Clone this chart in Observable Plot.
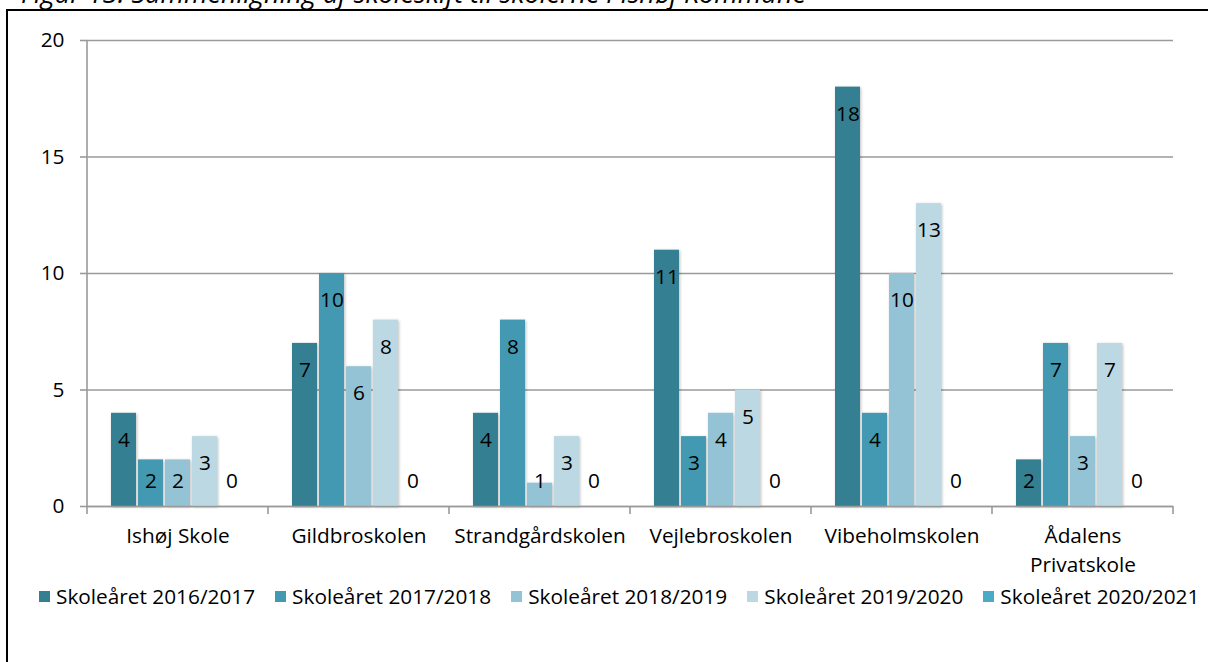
<!DOCTYPE html>
<html>
<head>
<meta charset="utf-8">
<script src="https://cdn.jsdelivr.net/npm/d3@7"></script>
<script src="https://cdn.jsdelivr.net/npm/@observablehq/plot@0.6"></script>
<style>
  html, body { margin: 0; padding: 0; background: #fff; }
  #wrap { position: relative; width: 1208px; height: 662px; overflow: hidden; font-family: "Open Sans", sans-serif; }
  #title { position: absolute; left: 21px; top: -21px; font-size: 27px; font-style: italic; line-height: 27px; white-space: nowrap; color: #000; }
  #frame { position: absolute; left: 6px; top: 9px; width: 1210px; height: 700px; border: 2px solid #000; box-sizing: border-box; background: transparent; }
  #chart { position: absolute; left: 0; top: 0; }
  #legend { position: absolute; left: 39px; top: 582px; display: flex; gap: 20px; font-size: 20.8px; color: #000; white-space: nowrap; }
  #legend .item { display: flex; align-items: center; }
  #legend .sw { width: 11px; height: 11px; margin-right: 6px; display: inline-block; }
</style>
</head>
<body>
<div id="wrap">
  <div id="title">Figur 13: Sammenligning af skoleskift til skolerne i Ishøj Kommune</div>
  <div id="frame"></div>
  <div id="chart"></div>
  <div id="legend"></div>
</div>
<script>
const schools = ["Ishøj Skole", "Gildbroskolen", "Strandgårdskolen", "Vejlebroskolen", "Vibeholmskolen", "Ådalens Privatskole"];
const seriesNames = ["Skoleåret 2016/2017", "Skoleåret 2017/2018", "Skoleåret 2018/2019", "Skoleåret 2019/2020", "Skoleåret 2020/2021"];
const v2016 = [4, 7, 4, 11, 18, 2];
const v2017 = [2, 10, 8, 3, 4, 7];
const v2018 = [2, 6, 1, 4, 10, 3];
const v2019 = [3, 8, 3, 5, 13, 7];
const v2020 = [0, 0, 0, 0, 0, 0];
const yTicks = [0, 5, 10, 15, 20];
const colors = ["#357f93", "#4299b1", "#93c3d4", "#bcd8e3", "#4aabc6"];

const seriesValues = [v2016, v2017, v2018, v2019, v2020];
const data = [];
schools.forEach((s, i) => {
  seriesNames.forEach((n, j) => {
    data.push({school: s, series: n, value: seriesValues[j][i]});
  });
});

const W = 1208, H = 580;
const chart = Plot.plot({
  width: W,
  height: H,
  marginLeft: 86,
  marginRight: 35,
  marginTop: 40,
  marginBottom: 74,
  style: {fontFamily: "'Open Sans', sans-serif", fontSize: "21px", color: "#000", background: "transparent", overflow: "visible"},
  fx: {domain: schools, padding: 0, label: null},
  x: {domain: seriesNames, paddingInner: 0.0714, paddingOuter: 0.771, axis: null},
  y: {domain: [0, 20], label: null},
  color: {domain: seriesNames, range: colors},
  marks: [
    Plot.gridY(yTicks, {stroke: "#9a9a9a", strokeOpacity: 1, strokeWidth: 1.6}),
    Plot.axisY(yTicks, {tickSize: 7, tickPadding: 16, stroke: "#9a9a9a", strokeWidth: 1.6, fontSize: 21, label: null, tickFormat: d => d}),
    Plot.barY(data, {fx: "school", x: "series", y: "value", fill: "series"}),
    Plot.ruleY([0], {stroke: "#9a9a9a", strokeWidth: 1.6}),
    Plot.text(data, {fx: "school", x: "series", y: d => Math.max(d.value - 1.16, 1.1), text: d => String(d.value), fontSize: 21, fill: "#000"}),
    Plot.axisFx({anchor: "bottom", tickSize: 0, tickPadding: 16, fontSize: 21, lineHeight: 1.38, label: null,
      tickFormat: d => d === "Ådalens Privatskole" ? "Ådalens\nPrivatskole" : d})
  ]
});
document.getElementById("chart").appendChild(chart);

const svg = d3.select(chart);
svg.selectAll("text").style("font-size", "20.8px");

// shadow filter and boundary ticks using the library scales
const defs = svg.insert("defs", ":first-child");
const f = defs.append("filter").attr("id", "shadow").attr("x", "-20%").attr("y", "-10%").attr("width", "150%").attr("height", "130%");
f.append("feDropShadow").attr("dx", 1).attr("dy", 1).attr("stdDeviation", 1.5).attr("flood-color", "#000").attr("flood-opacity", 0.25);
svg.selectAll("g[aria-label='bar'] rect").attr("filter", "url(#shadow)");

const fx = chart.scale("fx");
const y = chart.scale("y");
const y0 = y.apply(0), yTop = y.apply(20);
const bounds = schools.map(s => fx.apply(s));
bounds.push(fx.apply(schools[schools.length - 1]) + fx.bandwidth);
const g = svg.append("g").attr("stroke", "#9a9a9a").attr("stroke-width", 1.6);
bounds.forEach(b => g.append("line").attr("x1", b).attr("x2", b).attr("y1", y0).attr("y2", y0 + 8));
g.append("line").attr("x1", bounds[0]).attr("x2", bounds[0]).attr("y1", yTop).attr("y2", y0);

// legend
const leg = d3.select("#legend");
seriesNames.forEach((n, j) => {
  const it = leg.append("div").attr("class", "item");
  it.append("span").attr("class", "sw").style("background", colors[j]);
  it.append("span").text(n);
});
</script>
</body>
</html>
